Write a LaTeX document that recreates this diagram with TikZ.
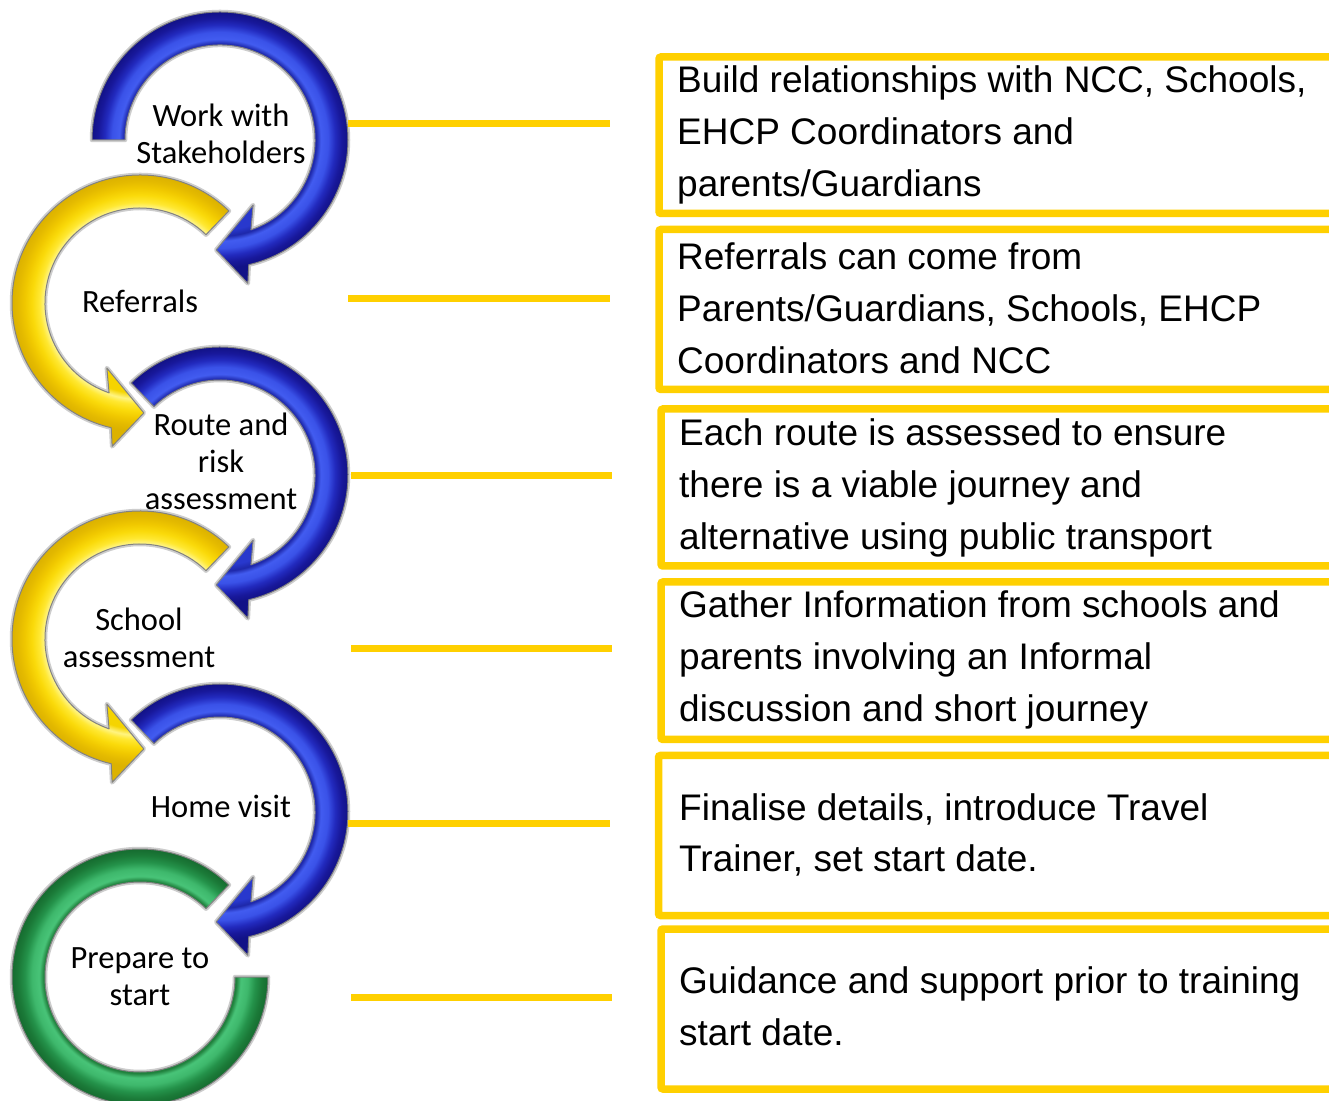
\documentclass[tikz,border=0pt]{standalone}
\usepackage{fontspec}
\setmainfont{Liberation Sans}
\newfontfamily\calib{Carlito}
\definecolor{gold}{RGB}{255,208,0}
\definecolor{rimL}{RGB}{205,205,205}
\definecolor{rimD}{RGB}{130,130,130}
\definecolor{bl0}{RGB}{40,56,205}
\definecolor{bl1}{RGB}{30,40,170}
\definecolor{bl2}{RGB}{66,92,240}
\definecolor{bl3}{RGB}{58,82,232}
\definecolor{bl4}{RGB}{34,42,190}
\definecolor{bl5}{RGB}{24,24,155}
\definecolor{bl6}{RGB}{18,18,135}
\definecolor{ye0}{RGB}{245,212,0}
\definecolor{ye1}{RGB}{255,244,130}
\definecolor{ye2}{RGB}{255,232,50}
\definecolor{ye3}{RGB}{250,218,10}
\definecolor{ye4}{RGB}{240,200,0}
\definecolor{ye5}{RGB}{228,186,0}
\definecolor{ye6}{RGB}{220,178,0}
\definecolor{gr0}{RGB}{40,150,75}
\definecolor{gr1}{RGB}{30,125,58}
\definecolor{gr2}{RGB}{72,196,120}
\definecolor{gr3}{RGB}{62,184,108}
\definecolor{gr4}{RGB}{36,146,74}
\definecolor{gr5}{RGB}{27,122,56}
\definecolor{gr6}{RGB}{22,108,48}
\pgfdeclareradialshading{blueRing}{\pgfpoint{0bp}{0bp}}{color(0bp)=(bl0); color(15bp)=(bl0); color(16bp)=(bl1); color(16.8bp)=(bl2); color(18bp)=(bl3); color(19.2bp)=(bl4); color(20.3bp)=(bl5); color(21.3bp)=(bl6); color(50bp)=(bl6)}
\pgfdeclareradialshading{yellowRing}{\pgfpoint{0bp}{0bp}}{color(0bp)=(ye0); color(15bp)=(ye0); color(16bp)=(ye1); color(16.8bp)=(ye2); color(18bp)=(ye3); color(19.2bp)=(ye4); color(20.3bp)=(ye5); color(21.3bp)=(ye6); color(50bp)=(ye6)}
\pgfdeclareradialshading{greenRing}{\pgfpoint{0bp}{0bp}}{color(0bp)=(gr0); color(15bp)=(gr0); color(16bp)=(gr1); color(16.8bp)=(gr2); color(18bp)=(gr3); color(19.2bp)=(gr4); color(20.3bp)=(gr5); color(21.3bp)=(gr6); color(50bp)=(gr6)}
\tikzset{
  rimlight/.style={draw=rimL, line width=4.5, line join=round},
  rimdark/.style={draw=rimD, line width=1, line join=round},
  pics/bluearrow/.style={code={
    \path[rimlight] (#1:128) arc[start angle=#1,end angle=-77,radius=128] -- (-79:146) -- (-92:110) -- (-63:73) -- (-71:95) arc[start angle=-71,end angle=#1,radius=95] -- cycle;
    \begin{scope}
      \clip (#1:128) arc[start angle=#1,end angle=-77,radius=128] -- (-79:146) -- (-92:110) -- (-63:73) -- (-71:95) arc[start angle=-71,end angle=#1,radius=95] -- cycle;
      \shade[shading=blueRing] (0,0) circle (150);
    \end{scope}
    \path[rimdark] (#1:128) arc[start angle=#1,end angle=-77,radius=128] -- (-79:146) -- (-92:110) -- (-63:73) -- (-71:95) arc[start angle=-71,end angle=#1,radius=95] -- cycle;
  }},
  pics/yellowarrow/.style={code={
    \path[rimlight] (46:128) arc[start angle=46,end angle=257,radius=128] -- (259:146) -- (272:110) -- (243:73) -- (251:95) arc[start angle=251,end angle=46,radius=95] -- cycle;
    \begin{scope}
      \clip (46:128) arc[start angle=46,end angle=257,radius=128] -- (259:146) -- (272:110) -- (243:73) -- (251:95) arc[start angle=251,end angle=46,radius=95] -- cycle;
      \shade[shading=yellowRing] (0,0) circle (150);
    \end{scope}
    \path[rimdark] (46:128) arc[start angle=46,end angle=257,radius=128] -- (259:146) -- (272:110) -- (243:73) -- (251:95) arc[start angle=251,end angle=46,radius=95] -- cycle;
  }},
  pics/greenring/.style={code={
    \path[rimlight] (46:128) arc[start angle=46,end angle=360,radius=128] -- (0:95) arc[start angle=360,end angle=46,radius=95] -- cycle;
    \begin{scope}
      \clip (46:128) arc[start angle=46,end angle=360,radius=128] -- (0:95) arc[start angle=360,end angle=46,radius=95] -- cycle;
      \shade[shading=greenRing] (0,0) circle (150);
    \end{scope}
    \path[rimdark] (46:128) arc[start angle=46,end angle=360,radius=128] -- (0:95) arc[start angle=360,end angle=46,radius=95] -- cycle;
  }},
  lbl/.style={font=\calib\fontsize{32.5}{37}\selectfont, align=center, anchor=base, inner sep=0},
  boxtxt/.style={font=\fontsize{37}{52}\selectfont, align=left, anchor=base west, inner sep=0},
  boxst/.style={draw=gold, line width=7.5, rounded corners=2},
  conn/.style={draw=gold, line width=7},
}
\begin{document}
\begin{tikzpicture}[x=1pt,y=1pt]
\useasboundingbox (0,0) rectangle (1329,1100);
\clip (0,0) rectangle (1329,1100);
\fill[white] (0,0) rectangle (1329,1100);
% ring arrows
\pic at (220,960) {bluearrow=180};
\pic at (140,797) {yellowarrow};
\pic at (220,625) {bluearrow=134};
\pic at (140,461) {yellowarrow};
\pic at (220,288) {bluearrow=134};
\pic at (140,123) {greenring};
% step labels (anchored at the baseline of the last line)
\node[lbl] (s1) at (221,936) {Work with\\Stakeholders};
\node[lbl] (s2) at (140,787) {Referrals};
\node[lbl] (s3) at (221,590) {Route and\\risk\\assessment};
\node[lbl] (s4) at (139,432) {School\\assessment};
\node[lbl] (s5) at (221,282) {Home visit};
\node[lbl] (s6) at (140,95) {Prepare to\\start};
% boxes
\draw[boxst] (659,1043) rectangle (1350,886.5);
\draw[boxst] (659,870.5) rectangle (1350,710.5);
\draw[boxst] (661,691) rectangle (1350,534);
\draw[boxst] (661,518) rectangle (1350,360.5);
\draw[boxst] (658.5,344.5) rectangle (1350,184.5);
\draw[boxst] (661,171) rectangle (1350,11);
% box texts (anchored at the baseline of the last line)
\node[boxtxt] (d1) at (677,903) {Build relationships with NCC, Schools,\\EHCP Coordinators and\\parents/Guardians};
\node[boxtxt] (d2) at (677,726) {Referrals can come from\\Parents/Guardians, Schools, EHCP\\Coordinators and NCC};
\node[boxtxt] (d3) at (679,550) {Each route is assessed to ensure\\there is a viable journey and\\alternative using public transport};
\node[boxtxt] (d4) at (679,378) {Gather Information from schools and\\parents involving an Informal\\discussion and short journey};
\node[boxtxt] (d5) at (679,228) {Finalise details, introduce Travel\\Trainer, set start date.};
\node[boxtxt] (d6) at (679,55) {Guidance and support prior to training\\start date.};
% connectors
\coordinate (c1a) at (348,976); \coordinate (c1b) at (610,976);
\coordinate (c2a) at (348,801); \coordinate (c2b) at (610,801);
\coordinate (c3a) at (351,624); \coordinate (c3b) at (612,624);
\coordinate (c4a) at (351,451); \coordinate (c4b) at (612,451);
\coordinate (c5a) at (348,276); \coordinate (c5b) at (610,276);
\coordinate (c6a) at (351,103); \coordinate (c6b) at (612,103);
\draw[conn] (c1a) -- (c1b);
\draw[conn] (c2a) -- (c2b);
\draw[conn] (c3a) -- (c3b);
\draw[conn] (c4a) -- (c4b);
\draw[conn] (c5a) -- (c5b);
\draw[conn] (c6a) -- (c6b);
\end{tikzpicture}
\end{document}
